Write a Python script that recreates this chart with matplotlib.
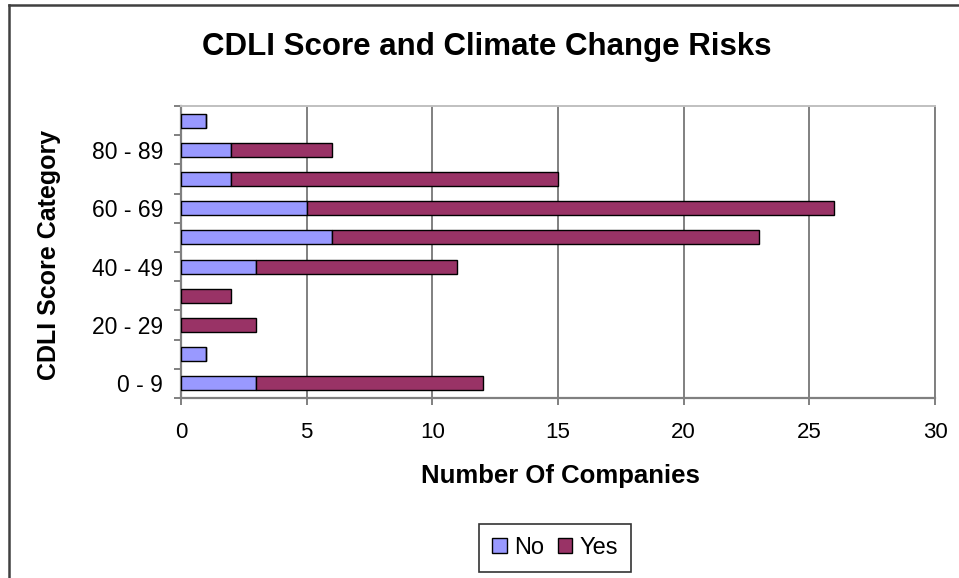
import matplotlib
matplotlib.use("Agg")
import matplotlib.pyplot as plt
from matplotlib.lines import Line2D
from matplotlib.patches import Patch

plt.rcParams['font.family'] = ['Liberation Sans', 'DejaVu Sans']

categories = ["0 - 9", "10 - 19", "20 - 29", "30 - 39", "40 - 49",
              "50 - 59", "60 - 69", "70 - 79", "80 - 89", "90 - 99"]
no_values = [3, 1, 0, 0, 3, 6, 5, 2, 2, 1]
yes_values = [9, 0, 3, 2, 8, 17, 21, 13, 4, 0]
x_ticks = [0, 5, 10, 15, 20, 25, 30]

W, H = 959, 578
fig = plt.figure(figsize=(W / 100, H / 100), dpi=100)
fig.patch.set_facecolor('white')

# outer frame (left and top visible)
fig.add_artist(Line2D([9 / W, 9 / W], [0, 1 - 5 / H], transform=fig.transFigure,
                      color='#404040', lw=1.8))
fig.add_artist(Line2D([9 / W, 1], [1 - 5 / H, 1 - 5 / H], transform=fig.transFigure,
                      color='#404040', lw=1.8))

left, right, top, bottom = 181, 935, 106, 398
ax = fig.add_axes([left / W, 1 - bottom / H, (right - left) / W, (bottom - top) / H])

y = list(range(len(categories)))
bh = 0.48
ax.barh(y, no_values, height=bh, color='#9999FF', edgecolor='black', lw=1.0,
        label='No', zorder=3)
ax.barh(y, yes_values, left=no_values, height=bh, color='#993366', edgecolor='black',
        lw=1.0, label='Yes', zorder=3)

ax.set_xlim(0, 30)
ax.set_ylim(-0.5, len(categories) - 0.5)
ax.set_xticks(x_ticks)
ax.set_xticklabels([str(v) for v in x_ticks], fontsize=16)
ax.set_yticks(y[::2])
ax.set_yticklabels(categories[::2], fontsize=16.5)
ax.set_yticks([i - 0.5 for i in range(len(categories) + 1)], minor=True)
ax.tick_params(axis='y', which='major', length=0, pad=13)
ax.tick_params(axis='y', which='minor', length=5, width=1.4, color='#808080', direction='out')
ax.tick_params(axis='x', which='major', length=5, width=1.4, color='#808080', pad=12)

ax.grid(axis='x', color='#808080', lw=1.4, zorder=1)
for s in ['left', 'bottom']:
    ax.spines[s].set_color('#808080')
    ax.spines[s].set_linewidth(1.6)
ax.spines['top'].set_color('#c0c0c0')
ax.spines['top'].set_linewidth(1.4)
ax.spines['right'].set_color('#808080')
ax.spines['right'].set_linewidth(1.4)

fig.text(560 / W, 1 - 476 / H, 'Number Of Companies', fontsize=18.5, fontweight='bold',
         ha='center', va='center')
fig.text(49 / W, 1 - 255 / H, 'CDLI Score Category', fontsize=18, fontweight='bold',
         ha='center', va='center', rotation=90)

fig.text(487 / W, 1 - 47 / H, 'CDLI Score and Climate Change Risks', fontsize=22.5,
         fontweight='bold', ha='center', va='center')

handles = [Patch(facecolor='#9999FF', edgecolor='black', label='No'),
           Patch(facecolor='#993366', edgecolor='black', label='Yes')]
leg = fig.legend(handles=handles, loc='center', bbox_to_anchor=(555 / W, 1 - 548 / H),
                 ncol=2, fontsize=17, frameon=True, fancybox=False, handlelength=0.6,
                 handleheight=0.6, handletextpad=0.3, columnspacing=0.6, borderpad=0.55,
                 borderaxespad=0)
leg.get_frame().set_edgecolor('black')
leg.get_frame().set_linewidth(1.2)

fig.savefig('out.png', dpi=100, facecolor='white')
